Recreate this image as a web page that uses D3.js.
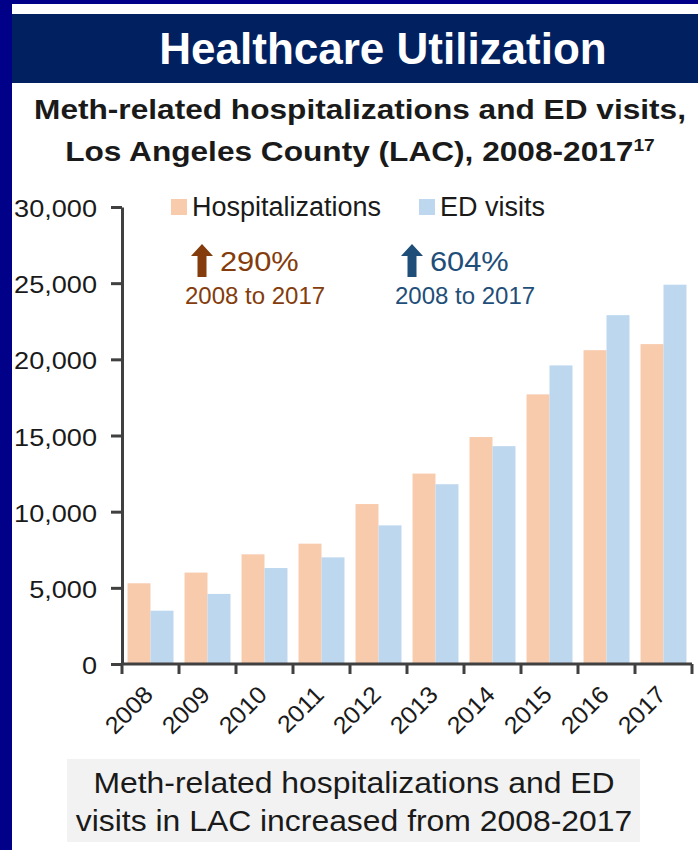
<!DOCTYPE html>
<html>
<head>
<meta charset="utf-8">
<script src="https://cdn.jsdelivr.net/npm/d3@7"></script>
<style>
  body { margin: 0; background: #000088; }
  svg { display: block; font-family: "Liberation Sans", Arial, sans-serif; }
</style>
</head>
<body>
<div id="chart"></div>
<script>
// values
const years = ['2008', '2009', '2010', '2011', '2012', '2013', '2014', '2015', '2016', '2017'];
const hospitalizations = [5300, 6000, 7200, 7900, 10500, 12500, 14900, 17700, 20600, 21000];
const edVisits = [3500, 4600, 6300, 7000, 9100, 11800, 14300, 19600, 22900, 24900];
const yTicks = [0, 5000, 10000, 15000, 20000, 25000, 30000];
const seriesKeys = ['hosp', 'ed'];
const seriesLabels = ['Hospitalizations', 'ED visits'];
const seriesColors = ['#f8cbad', '#bdd7ee'];
const changeLabels = ['290%', '604%'];
const changeColors = ['#843c0c', '#1f4e79'];
const changePeriod = '2008 to 2017';

const width = 698, height = 850;
const SX = 1.13; // slide text is a bit wider than the font
const ink = '#1a1a1a';

const svg = d3.select('#chart').append('svg')
  .attr('width', width)
  .attr('height', height);

// frame + header band
svg.append('rect').attr('width', width).attr('height', height).attr('fill', '#000088');
svg.append('rect').attr('x', 12).attr('y', 4).attr('width', width - 12).attr('height', height - 4).attr('fill', '#fff');
svg.append('rect').attr('x', 12).attr('y', 14).attr('width', width - 12).attr('height', 69).attr('fill', '#002060');

svg.append('text')
  .attr('x', 383).attr('y', 64)
  .attr('text-anchor', 'middle')
  .attr('fill', '#fff')
  .attr('font-size', 44)
  .attr('font-weight', 'bold')
  .text('Healthcare Utilization');

// helper for horizontally stretched text
function wideText(parent, x, y, sx) {
  return parent.append('g')
    .attr('transform', `translate(${x},${y}) scale(${sx},1)`)
    .append('text');
}

wideText(svg, 360, 119, SX)
  .attr('text-anchor', 'middle')
  .attr('font-size', 28)
  .attr('font-weight', 'bold')
  .attr('fill', ink)
  .text('Meth-related hospitalizations and ED visits,');

const sub2 = wideText(svg, 360, 161, SX)
  .attr('text-anchor', 'middle')
  .attr('font-size', 28)
  .attr('font-weight', 'bold')
  .attr('fill', ink);
sub2.append('tspan').text('Los Angeles County (LAC), 2008-2017');
sub2.append('tspan').attr('font-size', 17).attr('dy', -10).text('17');

// scales
const x0 = d3.scaleBand().domain(years).range([122, 692]).padding(0);
const x1 = d3.scaleBand().domain(seriesKeys).range([0, x0.bandwidth()]).paddingInner(0).paddingOuter(0.24);
const y = d3.scaleLinear().domain([0, 30000]).range([664, 207]);
const color = d3.scaleOrdinal().domain(seriesKeys).range(seriesColors);

const rows = years.map((yr, i) => ({ year: yr, hosp: hospitalizations[i], ed: edVisits[i] }));

// bars
svg.append('g')
  .selectAll('g')
  .data(rows)
  .join('g')
    .attr('transform', d => `translate(${x0(d.year)},0)`)
  .selectAll('rect')
  .data(d => seriesKeys.map(k => ({ key: k, value: d[k] })))
  .join('rect')
    .attr('x', d => x1(d.key))
    .attr('y', d => y(d.value))
    .attr('width', x1.bandwidth())
    .attr('height', d => y(0) - y(d.value))
    .attr('fill', d => color(d.key));

// y axis
const yAxis = svg.append('g')
  .attr('transform', 'translate(122,0)')
  .call(d3.axisLeft(y).tickValues(yTicks).tickSize(11).tickSizeOuter(0).tickFormat(d3.format(',')));
yAxis.select('.domain').attr('stroke', '#404040').attr('stroke-width', 3);
yAxis.selectAll('.tick line').attr('stroke', '#404040').attr('stroke-width', 3);
yAxis.selectAll('.tick text')
  .attr('font-size', 24)
  .attr('fill', ink)
  .attr('font-family', '"Liberation Sans", Arial, sans-serif')
  .attr('transform', `scale(${SX},1)`)
  .attr('x', -25 / SX)
  .attr('dy', '0.4em');

// x axis: line plus ticks on the band edges
const xAxis = svg.append('g');
xAxis.append('line')
  .attr('x1', x0.range()[0]).attr('x2', x0.range()[1])
  .attr('y1', y(0)).attr('y2', y(0))
  .attr('stroke', '#404040').attr('stroke-width', 3);
xAxis.selectAll('.xtick')
  .data(years.map(d => x0(d)).concat([x0.range()[1]]))
  .join('line')
    .attr('class', 'xtick')
    .attr('x1', d => d).attr('x2', d => d)
    .attr('y1', y(0)).attr('y2', y(0) + 10)
    .attr('stroke', '#404040').attr('stroke-width', 3);
xAxis.selectAll('.xlabel')
  .data(years)
  .join('g')
    .attr('class', 'xlabel')
    .attr('transform', d => `translate(${x0(d) + x0.bandwidth() / 2 + 4},${y(0) + 32}) rotate(-45) scale(1.05,1)`)
  .append('text')
    .attr('text-anchor', 'end')
    .attr('font-size', 24)
    .attr('fill', ink)
    .text(d => d);

// legend
const legend = svg.append('g');
const legendX = [171, 419];
seriesLabels.forEach((lab, i) => {
  legend.append('rect')
    .attr('x', legendX[i]).attr('y', 199)
    .attr('width', 16).attr('height', 16)
    .attr('fill', seriesColors[i]);
  legend.append('text')
    .attr('x', legendX[i] + 21).attr('y', 216)
    .attr('font-size', 27)
    .attr('fill', ink)
    .text(lab);
});

// change call-outs
const calloutX = [202, 412];
changeLabels.forEach((lab, i) => {
  const g = svg.append('g').attr('transform', `translate(${calloutX[i]},244)`);
  g.append('path')
    .attr('d', 'M0,0 L11,12 L4.5,12 L4.5,33 L-4.5,33 L-4.5,12 L-11,12 Z')
    .attr('fill', changeColors[i]);
  wideText(g, 18, 27, 1.1)
    .attr('font-size', 28)
    .attr('fill', changeColors[i])
    .text(lab);
  wideText(g, 53, 60, 1.0)
    .attr('text-anchor', 'middle')
    .attr('font-size', 24)
    .attr('fill', changeColors[i])
    .text(changePeriod);
});

// caption box
svg.append('rect')
  .attr('x', 67).attr('y', 759)
  .attr('width', 573).attr('height', 83)
  .attr('fill', '#f2f2f2');
const captionLines = ['Meth-related hospitalizations and ED', 'visits in LAC increased from 2008-2017'];
captionLines.forEach((line, i) => {
  wideText(svg, 354, 793 + i * 38, 1.1)
    .attr('text-anchor', 'middle')
    .attr('font-size', 29)
    .attr('fill', ink)
    .text(line);
});
</script>
</body>
</html>
